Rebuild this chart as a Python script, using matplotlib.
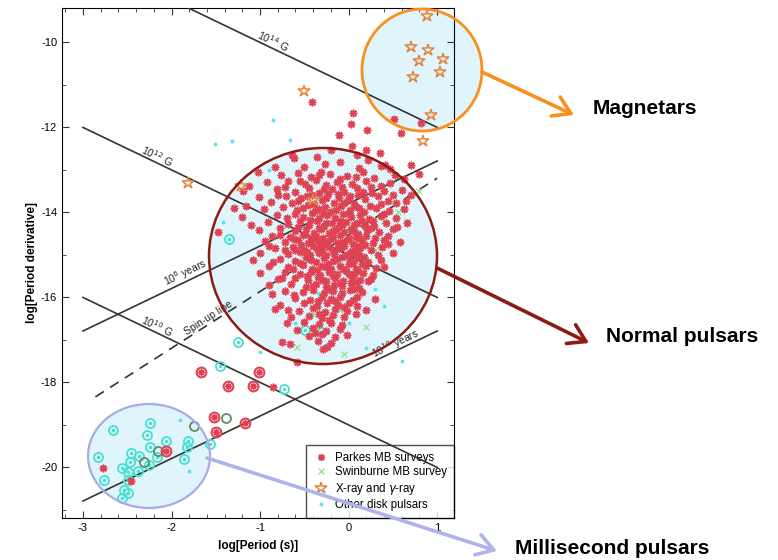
import numpy as np
import matplotlib
matplotlib.use("Agg")
import matplotlib.pyplot as plt
from matplotlib.patches import Ellipse, FancyArrowPatch
from matplotlib.lines import Line2D
from matplotlib.ticker import MultipleLocator

plt.rcParams['font.family'] = ['Liberation Sans', 'DejaVu Sans']
plt.rcParams['axes.unicode_minus'] = False

# Parkes MB surveys (log P, log Pdot)
parkes = np.array([
    (-0.41,-11.41),(0.05,-11.67),(0.03,-11.93),(0.21,-12.07),(-0.11,-12.19),(0.04,-12.45),(0.2,-12.54),
    (0.51,-11.81),(0.59,-12.14),(0.82,-11.91),(-0.64,-12.66),(0.41,-12.89),(0.22,-12.78),
    (-0.62,-12.74),(-0.36,-12.7),(-0.1,-12.83),(0.36,-12.92),(0.47,-12.98),(-0.83,-12.93),(-0.5,-12.95),
    (-0.27,-12.86),(0.12,-12.97),(-1.02,-13.05),
    (-0.76,-13.12),(-0.57,-13.08),(-0.43,-13.18),(-0.21,-13.1),(-0.02,-13.15),(0.16,-13.06),(0.29,-13.21),
    (0.52,-13.13),(-1.13,-13.38),(-0.92,-13.3),(-0.68,-13.27),(-0.49,-13.34),(-0.37,-13.25),(-0.26,-13.36),
    (-0.13,-13.29),(0.04,-13.33),(0.2,-13.27),(0.37,-13.39),(0.47,-13.31),(0.62,-13.22),(-0.31,-13.05),(-0.07,-13.4),
    (-1.19,-13.5),(-0.81,-13.46),(-0.61,-13.52),(-0.45,-13.43),(-0.34,-13.55),(-0.19,-13.47),(-0.05,-13.53),
    (0.09,-13.44),(0.26,-13.56),(0.6,-13.49),(-1.01,-13.64),(-0.71,-13.62),(-0.54,-13.68),(-0.41,-13.6),
    (-0.3,-13.72),(-0.23,-13.58),(-0.11,-13.66),(-0.01,-13.71),(0.11,-13.61),(0.19,-13.7),(0.33,-13.63),
    (0.44,-13.74),(0.71,-13.6),(-0.88,-13.77),(-0.64,-13.79),(-0.16,-13.78),(0.06,-13.8),(0.54,-13.78),
    (-1.16,-13.85),(-0.96,-13.93),(-0.74,-13.88),(-0.58,-13.95),(-0.46,-13.84),(-0.38,-13.97),(-0.27,-13.89),
    (-0.2,-14.0),(-0.09,-13.87),(0.01,-13.96),(0.07,-13.86),(0.17,-13.99),(0.31,-13.9),(0.46,-13.98),
    (0.63,-13.92),(-0.81,-14.08),(-0.61,-14.05),(-0.51,-14.12),(-0.41,-14.03),(-0.33,-14.15),(-0.24,-14.07),
    (-0.15,-14.13),(-0.06,-14.04),(0.03,-14.11),(0.13,-14.06),(0.23,-14.16),(0.36,-14.09),(0.53,-14.14),(-1.2,-14.12),
    (-0.91,-14.24),(-0.69,-14.28),(-0.55,-14.22),(-0.45,-14.31),(-0.36,-14.21),(-0.28,-14.33),(-0.19,-14.26),
    (-0.11,-14.35),(-0.03,-14.23),(0.06,-14.3),(0.15,-14.21),(0.29,-14.34),(0.42,-14.27),(0.66,-14.25),
    (-1.01,-14.42),(-0.77,-14.38),(-0.6,-14.45),(-0.48,-14.4),(-0.39,-14.49),(-0.31,-14.41),(-0.22,-14.5),
    (-0.14,-14.39),(-0.05,-14.47),(0.03,-14.4),(0.11,-14.52),(0.21,-14.43),(0.34,-14.48),(0.5,-14.41),
    (-1.47,-14.47),(-0.86,-14.56),(-0.66,-14.58),(-0.52,-14.55),(-0.43,-14.6),(-0.18,-14.58),(0.08,-14.59),(0.45,-14.57),
    (-0.95,-14.68),(-0.72,-14.71),(-0.57,-14.65),(-0.46,-14.74),(-0.35,-14.66),(-0.27,-14.75),(-0.2,-14.64),
    (-0.12,-14.72),(-0.02,-14.67),(0.05,-14.76),(0.15,-14.69),(0.27,-14.73),(0.4,-14.66),(0.58,-14.71),
    (-0.83,-14.85),(-0.63,-14.83),(-0.5,-14.89),(-0.4,-14.81),(-0.3,-14.9),(-0.22,-14.82),(-0.13,-14.88),
    (-0.05,-14.8),(0.04,-14.91),(0.13,-14.84),(0.25,-14.89),(0.38,-14.83),(-1.0,-14.97),(-0.69,-14.98),
    (-0.55,-14.95),(-0.44,-15.0),(-0.33,-14.96),(-0.16,-14.99),(0.02,-14.97),(0.12,-15.0),(0.5,-14.96),
    (-1.08,-15.13),(-0.78,-15.1),(-0.6,-15.15),(-0.48,-15.07),(-0.37,-15.18),(-0.28,-15.09),(-0.18,-15.16),
    (-0.08,-15.06),(0.02,-15.14),(0.1,-15.08),(0.22,-15.17),(0.36,-15.12),(-0.9,-15.27),(-0.68,-15.3),
    (-0.52,-15.24),(-0.41,-15.33),(-0.3,-15.26),(-0.2,-15.35),(-0.1,-15.28),(0.0,-15.23),(0.08,-15.34),
    (0.2,-15.27),(0.31,-15.31),(-1.0,-15.44),(-0.72,-15.42),(-0.55,-15.47),(-0.43,-15.4),(-0.32,-15.48),
    (-0.22,-15.41),(-0.13,-15.46),(-0.03,-15.39),(0.06,-15.47),(0.16,-15.43),(0.28,-15.49),
    (-0.8,-15.57),(-0.6,-15.55),(-0.46,-15.61),(-0.35,-15.54),(-0.25,-15.63),(-0.15,-15.56),(-0.06,-15.62),
    (0.04,-15.55),(0.13,-15.6),(0.25,-15.58),(-0.9,-15.72),(-0.65,-15.7),(-0.48,-15.76),(-0.37,-15.69),
    (-0.26,-15.77),(-0.17,-15.71),(-0.07,-15.75),(0.03,-15.68),(0.12,-15.78),(-0.72,-15.86),(-0.52,-15.88),
    (-0.4,-15.83),(-0.28,-15.9),(-0.18,-15.85),(-0.08,-15.91),(0.02,-15.84),(0.15,-15.89),(-0.86,-15.93),
    (-0.6,-16.02),(-0.44,-16.06),(-0.3,-15.99),(-0.2,-16.05),(-0.1,-16.01),(0.05,-16.08),(-0.77,-16.18),
    (-0.5,-16.14),(-0.36,-16.2),(-0.24,-16.13),(-0.12,-16.19),(0.0,-16.15),(0.1,-16.22),(-0.83,-16.28),
    (-0.56,-16.32),(-0.4,-16.27),(-0.27,-16.35),(-0.15,-16.29),(-0.02,-16.33),(-0.65,-16.46),(-0.45,-16.44),
    (-0.3,-16.49),(-0.18,-16.42),(-0.05,-16.47),(0.08,-16.41),
    (-0.7,-16.62),(-0.5,-16.58),(-0.33,-16.64),(-0.2,-16.6),(-0.08,-16.66),(-0.58,-16.77),(-0.4,-16.73),
    (-0.25,-16.8),(-0.1,-16.75),(-0.45,-16.92),(-0.3,-16.88),(-0.15,-16.95),(-0.02,-16.9),(-0.75,-17.06),
    (-0.66,-17.11),(-0.35,-17.04),(-0.2,-17.08),(-0.24,-17.18),(-0.58,-17.53),(-0.85,-18.11),(-0.29,-17.22),
    (-2.77,-20.02),(-2.46,-20.33),
])

# extra points of the crowded core
parkes_core = np.array([
    (-0.47,-13.62),(-0.39,-13.8),(-0.25,-13.67),(-0.33,-13.93),(-0.14,-13.95),(-0.05,-13.79),(0.12,-13.9),
    (-0.52,-13.9),(-0.44,-14.18),(-0.29,-14.02),(-0.1,-14.2),(0.0,-14.03),(0.09,-14.26),(0.19,-14.33),
    (-0.57,-14.36),(-0.34,-14.38),(-0.25,-14.27),(-0.18,-14.44),(-0.08,-14.31),(0.06,-14.44),(0.25,-14.38),
    (-0.62,-14.63),(-0.49,-14.52),(-0.37,-14.57),(-0.29,-14.62),(-0.1,-14.55),(0.0,-14.62),(0.12,-14.62),
    (0.2,-14.56),(-0.54,-14.78),(-0.42,-14.68),(-0.32,-14.78),(-0.24,-14.7),(-0.07,-14.7),(0.09,-14.79),
    (0.19,-14.78),(-0.6,-14.9),(-0.36,-14.86),(-0.18,-14.92),(-0.09,-14.85),(0.08,-14.95),(-0.47,-14.95),
    (-0.26,-15.02),(-0.03,-15.02),(0.17,-15.05),(-0.55,-15.2),(-0.42,-15.12),(-0.23,-15.22),(-0.13,-15.11),
    (0.05,-15.19),(0.15,-15.22),(-0.36,-15.37),(-0.25,-15.3),(-0.06,-15.33),(0.11,-15.39),(-0.47,-15.5),
    (-0.18,-15.51),(0.0,-15.45),(-0.3,-15.6),(-0.1,-15.66),(0.08,-15.65),(-0.4,-15.74),(-0.22,-15.8),
    (0.06,-15.8),(-0.35,-16.1),(-0.15,-16.1),(-0.05,-16.24),(-0.33,-16.4),(-0.22,-16.55),(-0.38,-16.85),
    (0.1,-16.0),(-0.62,-15.95),(-0.55,-13.28),(-0.33,-13.14),(-0.1,-13.22),(0.08,-13.18),(0.25,-13.4),
    (0.4,-13.5),(-0.72,-13.4),(-0.28,-13.47),(-0.12,-13.57),(0.02,-13.62),(0.16,-13.53),(0.36,-13.82),
    (0.24,-13.85),(-0.57,-13.75),(-0.8,-13.6),(0.5,-13.6),(0.4,-14.05),(0.27,-14.2),(0.55,-14.35),
    (-0.7,-14.15),(-0.78,-14.55),(-0.72,-14.9),(0.3,-14.6),(0.45,-14.75),(0.33,-15.0),(-0.85,-15.18),
    (0.4,-15.3),(-0.63,-15.35),(0.22,-15.63),(-0.75,-15.55),(0.3,-16.05),(0.2,-16.3),(-0.68,-16.3),
    (-0.9,-14.8),(-1.1,-14.3),(-1.3,-13.9),(0.8,-13.1),(0.7,-12.9),(0.65,-13.75),(0.1,-12.65),
    (-0.2,-12.55),(0.35,-12.6),
])

# Parkes binaries drawn as ringed points
parkes_bin = np.array([(-1.67,-17.76),(-1.01,-17.76),(-1.36,-18.09),(-1.08,-18.09),(-1.52,-18.82),
                       (-1.17,-18.96),(-1.50,-19.18),(-2.06,-19.62)])

swinburne = np.array([(0.55,-13.79),(0.66,-14.21),(0.56,-14.0),(-0.58,-17.18),(-0.86,-15.93),(-0.3,-15.6),
                      (0.0,-14.4),(-0.2,-13.9),(0.3,-14.9),(-0.5,-15.1),(0.1,-15.9),(-0.1,-16.3),(0.4,-14.2),
                      (-0.4,-16.4),(0.2,-16.7),(-0.7,-14.3),(0.8,-13.5),(-0.05,-17.35)])
swinburne_bin = np.array([(-1.75,-19.04),(-1.38,-18.85),(-2.15,-19.62),(-2.31,-19.88)])

xray = np.array([(0.88,-9.39),(0.71,-10.12),(0.90,-10.19),(0.80,-10.45),(1.07,-10.4),(1.03,-10.71),
                 (0.73,-10.82),(0.93,-11.72),(0.84,-12.33),(-0.50,-11.15),(-1.81,-13.32),(-1.21,-13.39),
                 (-0.40,-13.72)])

other = np.array([(-0.85,-11.84),(-1.32,-12.34),(-1.51,-12.39),(-0.66,-12.31),(-1.42,-14.24),(-0.9,-13.0),
                  (0.3,-15.8),(0.4,-16.2),(-0.6,-16.6),(0.2,-17.2),(0.0,-16.6),(-1.9,-18.9),(-1.0,-17.3),
                  (0.6,-17.5),(-0.1,-14.9),(0.15,-14.6),(-0.35,-15.9),(-1.8,-20.1)])
# other binaries / MSPs (ringed)
other_bin = np.array([(-1.25,-17.06),(-1.45,-17.62),(-0.73,-18.16),(-1.56,-19.46),(-1.81,-19.39),(-1.83,-19.53),
                      (-1.86,-19.81),(-2.06,-19.39),(-2.24,-18.96),(-2.28,-19.25),(-2.24,-19.53),(-2.16,-19.76),
                      (-2.25,-19.95),(-2.37,-19.74),(-2.46,-19.67),(-2.47,-19.88),(-2.38,-20.09),(-2.49,-20.12),
                      (-2.56,-20.02),(-2.49,-20.31),(-2.66,-19.13),(-2.83,-19.76),(-2.76,-20.31),(-2.54,-20.54),
                      (-2.49,-20.61),(-2.56,-20.73),(-1.35,-14.64),(-0.49,-16.78),(-0.3,-16.82)])

b_exp = [10, 12, 14]       # log B (G)
age_exp = [6, 10]          # log age (yr)
x_ticks = [-3, -2, -1, 0, 1]
y_ticks = [-20, -18, -16, -14, -12, -10]

W, H = 778, 560
fig = plt.figure(figsize=(W/100, H/100), dpi=100)
ax = fig.add_axes([62/W, 1-518/H, (454-62)/W, (518-8)/H])
ax.patch.set_visible(False)

def px(x, y):
    return (x/W, 1-y/H)

red = '#df4252'
lc = '#333333'
lp = np.array([-3.0, 1.0])
for b in b_exp:
    ax.plot(lp, 2*(b-19.505) - lp, color=lc, lw=1.2, zorder=3)
for a in age_exp:
    ax.plot(lp, lp - (a + np.log10(2*3.156e7)), color=lc, lw=1.2, zorder=3)
sp = np.array([-2.86, 1.0])
ax.plot(sp, -18.35 + 4/3*(sp+2.86), color=lc, lw=1.2, ls=(0, (6, 4.5)), zorder=3)

rot = np.degrees(np.arctan(42.5/88.5))
rot_sp = np.degrees(np.arctan(4/3*42.5/88.5))
ax.text(-0.85, -9.98, r'10$^{14}$ G', rotation=-rot, fontsize=7.5, ha='center', va='center', color='#222')
ax.text(-2.16, -12.68, r'10$^{12}$ G', rotation=-rot, fontsize=7.5, ha='center', va='center', color='#222')
ax.text(-2.16, -16.68, r'10$^{10}$ G', rotation=-rot, fontsize=7.5, ha='center', va='center', color='#222')
ax.text(-1.84, -15.42, r'10$^{6}$ years', rotation=rot, fontsize=7.5, ha='center', va='center', color='#222')
ax.text(0.525, -17.1, r'10$^{10}$ years', rotation=rot, fontsize=7.5, ha='center', va='center', color='#222')
ax.text(-1.58, -16.5, 'Spin-up line', rotation=rot_sp, fontsize=7.5, ha='center', va='center', color='#222')

ast = (8, 2, 0)
ax.plot(other[:, 0], other[:, 1], ls='none', marker='o', ms=1.8, color='#5fe3ee', zorder=4)
ax.plot(other_bin[:, 0], other_bin[:, 1], ls='none', marker='o', ms=6.5, mfc='none', mec='#44e0d2', mew=1.3, zorder=4)
ax.plot(other_bin[:, 0], other_bin[:, 1], ls='none', marker='o', ms=1.5, color='#44e0d2', zorder=4)
ax.plot(swinburne[:, 0], swinburne[:, 1], ls='none', marker='x', ms=4, mew=1, color='#9be59b', zorder=4)
ax.plot(swinburne_bin[:, 0], swinburne_bin[:, 1], ls='none', marker='o', ms=6.5, mfc='none', mec='#5f8f5f', mew=1.3, zorder=4)
ax.plot(parkes[:, 0], parkes[:, 1], ls='none', marker=ast, ms=5.5, mew=1.1, color=red, zorder=5)
ax.plot(parkes_core[:, 0], parkes_core[:, 1], ls='none', marker=ast, ms=5.5, mew=1.1, color=red, zorder=5)
ax.plot(parkes_bin[:, 0], parkes_bin[:, 1], ls='none', marker='o', ms=7, mfc='none', mec=red, mew=1.5, zorder=5)
ax.plot(parkes_bin[:, 0], parkes_bin[:, 1], ls='none', marker=ast, ms=4.5, mew=1.1, color=red, zorder=5)
ax.plot(xray[:, 0], xray[:, 1], ls='none', marker='*', ms=9, mfc='none', mec='#e5843e', mew=1.1, zorder=5)

ax.set_xlim(-3.237, 1.19)
ax.set_ylim(-21.2, -9.2)
ax.set_xticks(x_ticks)
ax.set_yticks(y_ticks)
ax.xaxis.set_minor_locator(MultipleLocator(0.2))
ax.yaxis.set_minor_locator(MultipleLocator(1))
ax.tick_params(which='both', direction='in', top=True, right=True, labelsize=8, color='#333')
ax.tick_params(which='major', length=5)
ax.tick_params(which='minor', length=3)
ax.set_xlabel('log[Period (s)]', fontsize=8.5, fontweight='bold', labelpad=5)
ax.set_ylabel('log[Period derivative]', fontsize=8.5, fontweight='bold', labelpad=2)

handles = [Line2D([], [], ls='none', marker=ast, ms=5, mew=1.1, color=red),
           Line2D([], [], ls='none', marker='x', ms=4, mew=1, color='#9be59b'),
           Line2D([], [], ls='none', marker='*', ms=9, mfc='none', mec='#e5843e', mew=1.1),
           Line2D([], [], ls='none', marker='o', ms=1.8, color='#5fe3ee')]
labels = ['Parkes MB surveys', 'Swinburne MB survey', 'X-ray and $\\gamma$-ray', 'Other disk pulsars']
leg = ax.legend(handles, labels, loc='lower right', bbox_to_anchor=(1, 0), borderaxespad=0, fontsize=8.3,
                fancybox=False, edgecolor='#222', handlelength=1.4, handletextpad=0.5,
                labelspacing=0.2, borderpad=0.6)
leg.get_frame().set_linewidth(1.0)
leg.set_zorder(2)

# highlight regions, in pixel coordinates of the figure
fill = '#e0f4fb'
regions = [((422, 70), 120, 122, '#f7901e', 2.0),
           ((323, 256), 228, 216, '#8c1c13', 1.8),
           ((149, 456), 122, 104, '#a8abe6', 1.6)]
for (cx, cy), w, h, ec, lw in regions:
    c = px(cx, cy)
    fig.add_artist(Ellipse(c, w/W, h/H, transform=fig.transFigure, fc=fill, ec='none', zorder=-1))
    fig.add_artist(Ellipse(c, w/W, h/H, transform=fig.transFigure, fc='none', ec=ec, lw=lw, zorder=10))

arrows = [((482, 72), (574, 115), '#f7901e', 'Magnetars', (593, 109)),
          ((437, 268), (589, 343), '#8c1c13', 'Normal pulsars', (606, 336)),
          ((207, 458), (497, 551), '#b0b3ea', 'Millisecond pulsars', (515, 548))]
for a, b, col, name, tp in arrows:
    fig.add_artist(FancyArrowPatch(px(*a), px(*b), transform=fig.transFigure, color=col, lw=2.6,
                                   arrowstyle='->,head_length=1.2,head_width=0.75', mutation_scale=10,
                                   shrinkA=0, shrinkB=0, zorder=11))
    fig.text(*px(*tp), name, fontsize=15, fontweight='bold', ha='left', va='center')

fig.savefig('out.png', dpi=100)
